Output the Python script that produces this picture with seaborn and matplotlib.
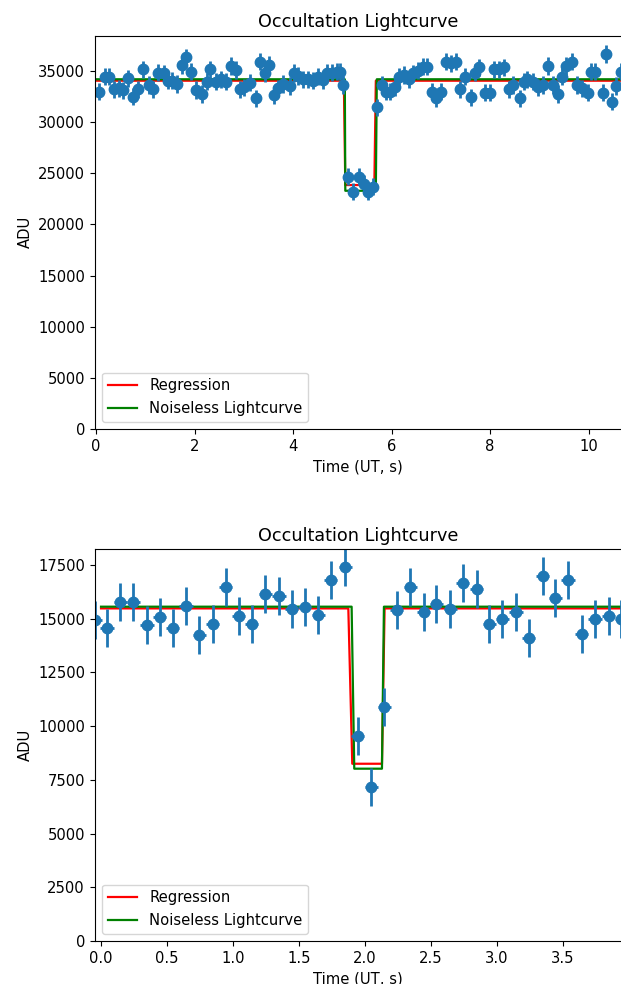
import matplotlib
matplotlib.use("Agg")
import matplotlib.pyplot as plt
import seaborn as sns
import numpy as np

# ---------------- Data: top panel ----------------
t_top = [0.06, 0.17, 0.26, 0.36, 0.46, 0.54, 0.65, 0.75, 0.85, 0.95, 1.07, 1.15, 1.25, 1.37,
         1.46, 1.55, 1.64, 1.75, 1.83, 1.93, 2.03, 2.14, 2.25, 2.32, 2.44, 2.54, 2.64, 2.74,
         2.83, 2.93, 3.01, 3.12, 3.24, 3.32, 3.42, 3.52, 3.62, 3.69, 3.79, 3.93, 4.01, 4.10,
         4.20, 4.30, 4.40, 4.50, 4.60, 4.68, 4.79, 4.89, 4.96, 5.01, 5.11, 5.21, 5.33, 5.43,
         5.52, 5.62, 5.70, 5.81, 5.89, 5.97, 6.06, 6.15, 6.26, 6.36, 6.44, 6.53, 6.63, 6.71,
         6.82, 6.90, 7.01, 7.11, 7.21, 7.31, 7.39, 7.50, 7.62, 7.70, 7.78, 7.89, 7.99, 8.09,
         8.19, 8.29, 8.38, 8.47, 8.60, 8.68, 8.76, 8.87, 8.97, 9.07, 9.17, 9.27, 9.37, 9.46,
         9.54, 9.67, 9.76, 9.87, 9.98, 10.05, 10.14, 10.29, 10.36, 10.48, 10.56, 10.65]
adu_top = [32975, 34440, 34440, 33210, 33300, 33100, 34285, 32490, 33210, 35160, 33630, 33210,
           34835, 34775, 34050, 34050, 33730, 35590, 36340, 34930, 33140, 32750, 33950, 35160,
           33950, 34190, 33950, 35490, 35100, 33210, 33400, 33860, 32330, 35910, 34775, 35590,
           32650, 33300, 33730, 33530, 34800, 34510, 34190, 34190, 34050, 34440, 34120, 34835,
           34835, 34930, 34930, 33630, 24660, 23200, 24660, 23950, 23200, 23680, 31450, 33630,
           32975, 32975, 33400, 34440, 34600, 34190, 34775, 35030, 35420, 35420, 32975, 32330,
           32975, 35910, 35750, 35910, 33210, 34440, 32430, 34835, 35360, 32880, 32880, 35160,
           35160, 35360, 33210, 33630, 32330, 33950, 34190, 33950, 33400, 33630, 35490, 33630,
           32750, 34440, 35490, 35910, 33630, 33300, 32880, 34930, 34930, 32880, 36660, 32000,
           33530, 34930]
err_top = 850
terr_top = 0.05

reg_t_top = [0.0, 5.03, 5.06, 5.65, 5.68, 10.7]
reg_v_top = [34050, 34050, 23850, 23850, 34050, 34050]
true_t_top = [0.0, 5.05, 5.06, 5.68, 5.70, 10.7]
true_v_top = [34190, 34190, 23290, 23290, 34190, 34190]

# ---------------- Data: bottom panel ----------------
t_bot = [-0.045, 0.045, 0.147, 0.245, 0.349, 0.445, 0.543, 0.644, 0.745, 0.848, 0.945, 1.043,
         1.142, 1.245, 1.349, 1.447, 1.545, 1.647, 1.742, 1.851, 1.947, 2.048, 2.147, 2.242,
         2.346, 2.445, 2.541, 2.647, 2.742, 2.848, 2.945, 3.041, 3.147, 3.242, 3.348, 3.445,
         3.541, 3.644, 3.745, 3.848, 3.945]
adu_bot = [14926, 14581, 15763, 15763, 14693, 15094, 14581, 15606, 14241, 14767, 16476, 15140,
           14767, 16164, 16071, 15438, 15531, 15187, 16787, 17407, 9540, 7152, 10904, 15391,
           16476, 15326, 15670, 15438, 16662, 16383, 14740, 14986, 15326, 14088, 17002, 15978,
           16787, 14288, 14986, 15140, 14986]
err_bot = 880
terr_bot = 0.05

reg_t_bot = [0.0, 1.875, 1.905, 2.13, 2.15, 4.0]
reg_v_bot = [15480, 15480, 8250, 8250, 15480, 15480]
true_t_bot = [0.0, 1.90, 1.92, 2.13, 2.145, 4.0]
true_v_bot = [15560, 15560, 8020, 8020, 15560, 15560]

FS = 10.6
plt.rcParams.update({
    "font.size": FS,
    "axes.labelsize": FS,
    "xtick.labelsize": FS,
    "ytick.labelsize": FS,
    "legend.fontsize": FS,
    "axes.titlesize": 12.7,
})

W, H = 621, 984
fig = plt.figure(figsize=(W / 100, H / 100), dpi=100)

def px_axes(left, top, right, bottom):
    return fig.add_axes([left / W, 1 - bottom / H, (right - left) / W, (bottom - top) / H])

ax1 = px_axes(94.7, 35.7, 622, 429)
ax2 = px_axes(94.7, 549, 622, 941)

def draw(ax, t, v, err, terr, rt, rv, nt, nv, xlim, ylim):
    sns.lineplot(x=rt, y=rv, ax=ax, color="red", label="Regression", sort=False,
                 estimator=None, linewidth=1.6)
    sns.lineplot(x=nt, y=nv, ax=ax, color="green", label="Noiseless Lightcurve", sort=False,
                 estimator=None, linewidth=1.6)
    ax.errorbar(t, v, yerr=err, xerr=terr, fmt="o", color="#1f77b4", markersize=7.5,
                elinewidth=2)
    ax.set_xlim(*xlim)
    ax.set_ylim(*ylim)
    ax.set_title("Occultation Lightcurve")
    ax.set_xlabel("Time (UT, s)")
    ax.set_ylabel("ADU")
    ax.legend(loc="lower left")

draw(ax1, t_top, adu_top, err_top, terr_top, reg_t_top, reg_v_top, true_t_top, true_v_top,
     (-0.03, 10.68), (0, 38450))
draw(ax2, t_bot, adu_bot, err_bot, terr_bot, reg_t_bot, reg_v_bot, true_t_bot, true_v_bot,
     (-0.048, 3.95), (0, 18245))

ax1.set_yticks(np.arange(0, 35001, 5000))
ax2.set_yticks(np.arange(0, 17501, 2500))

fig.savefig("out.png", dpi=100)
